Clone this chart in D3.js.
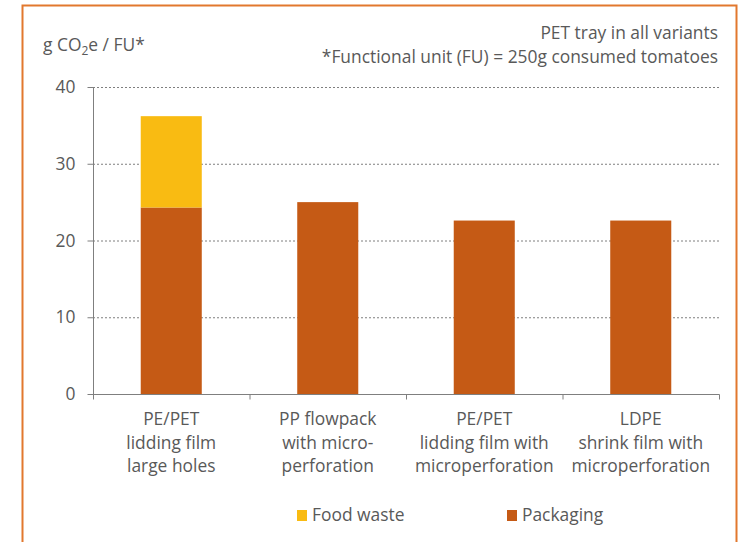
<!DOCTYPE html>
<html><head><meta charset="utf-8">
<script src="https://cdn.jsdelivr.net/npm/d3@7"></script>
<style>
body{margin:0;background:#fff;}
svg text{font-family:"Open Sans",Lato,sans-serif;fill:#595959;}
</style></head>
<body><svg id="c" width="742" height="542"></svg>
<script>
const categories = [
  ["PE/PET","lidding film","large holes"],
  ["PP flowpack","with micro-","perforation"],
  ["PE/PET","lidding film with","microperforation"],
  ["LDPE","shrink film with","microperforation"]
];
const packaging = [24.3, 25.0, 22.6, 22.6];
const foodWaste = [11.9, 0, 0, 0];
const yTicks = [0,10,20,30,40];
const seriesNames = ["Food waste","Packaging"];
const colors = {food:"#F9BB12", pack:"#C55A15"};
const FF = "'Open Sans',Lato,sans-serif";
const FS = 17.4;

const svg = d3.select("#c");
svg.append("path").attr("d","M22.5,542 V5.5 H736.5 V542").attr("fill","none").attr("stroke","#E2782E").attr("stroke-width",2);

const x = d3.scaleBand().domain(d3.range(categories.length)).range([93,719]).paddingInner(0.61).paddingOuter(0.305);
const y = d3.scaleLinear().domain([0,40]).range([394,87]);

svg.append("g").selectAll("line").data(yTicks.filter(d=>d>0)).join("line")
  .attr("x1",93).attr("x2",719).attr("y1",d=>y(d)+0.5).attr("y2",d=>y(d)+0.5)
  .attr("stroke","#7f7f7f").attr("stroke-width",1).attr("stroke-dasharray","2,2");

const g = svg.append("g");
g.selectAll(".p").data(packaging).join("rect")
  .attr("x",(d,i)=>x(i)).attr("width",x.bandwidth())
  .attr("y",d=>y(d)).attr("height",d=>y(0)-y(d)).attr("fill",colors.pack);
g.selectAll(".f").data(foodWaste).join("rect")
  .attr("x",(d,i)=>x(i)).attr("width",x.bandwidth())
  .attr("y",(d,i)=>y(packaging[i]+d)).attr("height",(d,i)=>y(packaging[i])-y(packaging[i]+d)).attr("fill",colors.food);

const ya = svg.append("g").attr("transform","translate(93.5,0)")
  .call(d3.axisLeft(y).tickValues(yTicks).tickSize(6).tickPadding(12));
ya.select(".domain").attr("stroke","#7f7f7f").attr("d","M0,"+y(40)+"V"+(y(0)+0.5));
ya.selectAll(".tick line").attr("stroke","#7f7f7f");
ya.selectAll(".tick text").attr("font-size",FS).style("font-family",FF).attr("fill","#595959");

const xa = svg.append("g").attr("transform","translate(0,"+(y(0)+0.5)+")");
xa.append("line").attr("x1",93).attr("x2",719.5).attr("stroke","#7f7f7f");
const bounds = d3.range(categories.length+1).map(i=>93+i*(719-93)/categories.length);
xa.selectAll(".t").data(bounds).join("line").attr("x1",d=>d+0.5).attr("x2",d=>d+0.5).attr("y1",0).attr("y2",5).attr("stroke","#7f7f7f");

categories.forEach((lines,i)=>{
  const t = svg.append("text").attr("text-anchor","middle").attr("font-size",FS)
    .attr("x",x(i)+x.bandwidth()/2).attr("y",425);
  lines.forEach((l,j)=>t.append("tspan").attr("x",x(i)+x.bandwidth()/2).attr("dy",j?23.5:0).text(l));
});

const yt = svg.append("text").attr("x",43).attr("y",51).attr("font-size",FS);
yt.append("tspan").text("g CO");
yt.append("tspan").attr("font-size",12).attr("dy",4).text("2");
yt.append("tspan").attr("dy",-4).text("e / FU*");

svg.append("text").attr("x",718).attr("y",39).attr("text-anchor","end").attr("font-size",FS).text("PET tray in all variants");
svg.append("text").attr("x",718).attr("y",63).attr("text-anchor","end").attr("font-size",FS).text("*Functional unit (FU) = 250g consumed tomatoes");

const leg = [{n:seriesNames[0],c:colors.food,x:297},{n:seriesNames[1],c:colors.pack,x:507}];
const lg = svg.append("g").selectAll("g").data(leg).join("g").attr("transform",d=>"translate("+d.x+",0)");
lg.append("rect").attr("x",0).attr("y",510).attr("width",10).attr("height",11).attr("fill",d=>d.c);
lg.append("text").attr("x",15).attr("y",521).attr("font-size",FS).text(d=>d.n);
</script></body></html>
